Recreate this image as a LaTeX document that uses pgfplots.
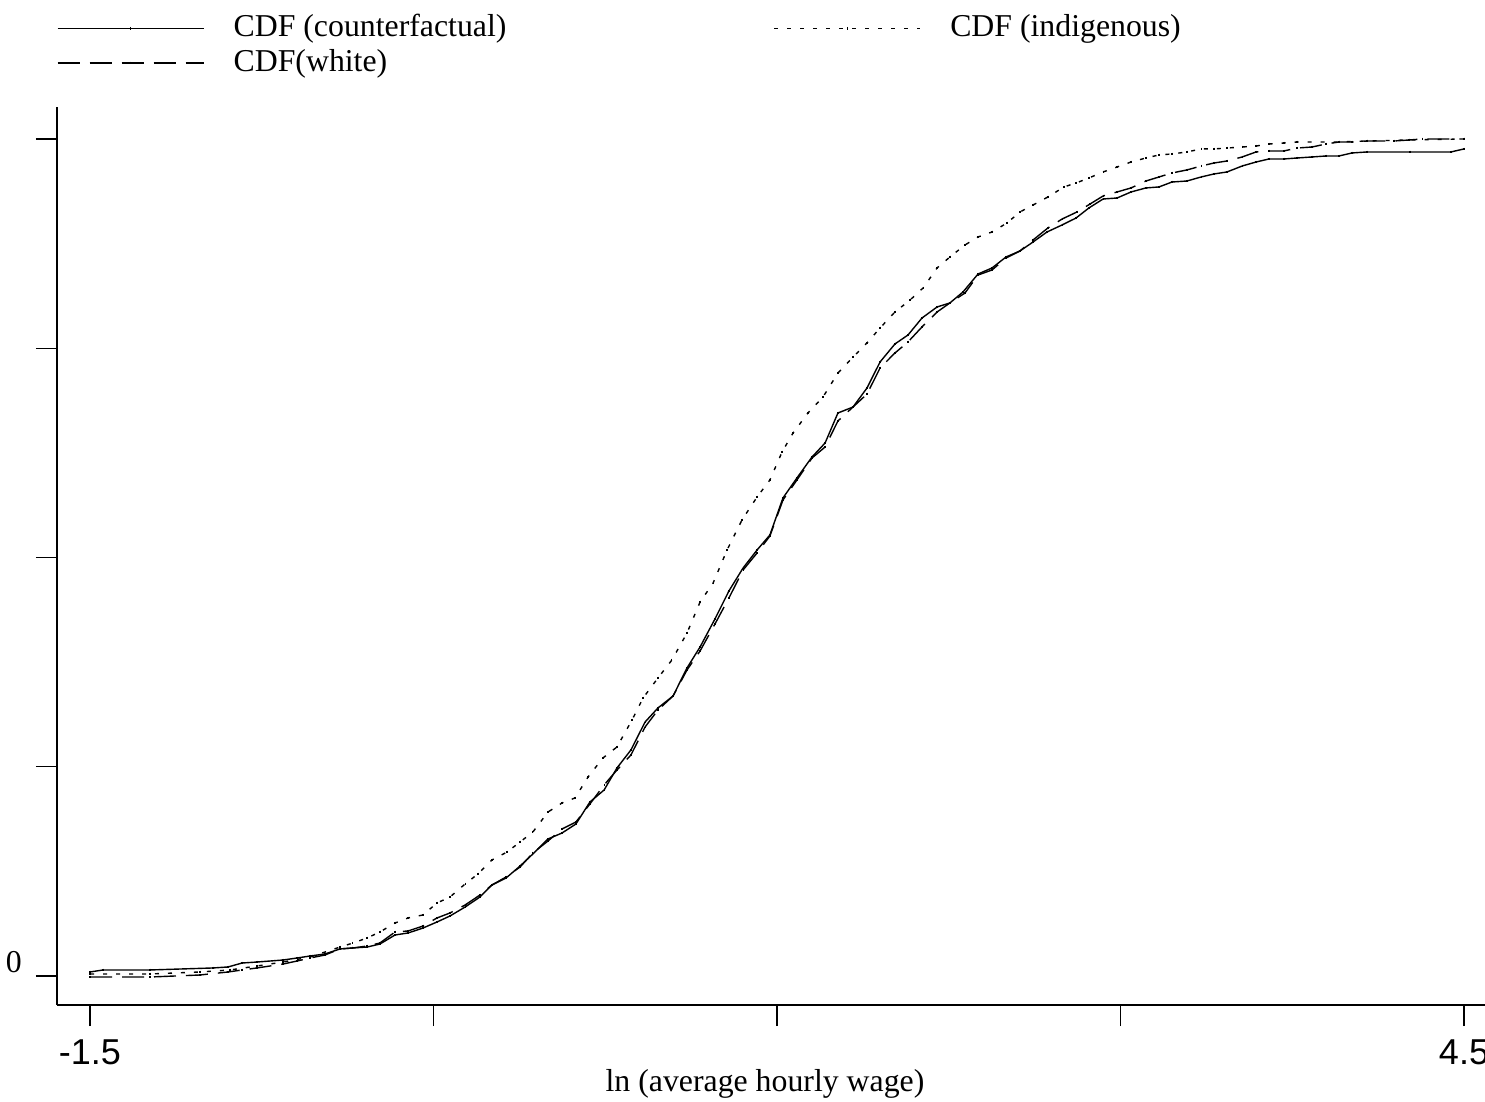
\documentclass[border=0pt]{standalone}
\usepackage{pgfplots}
\pgfplotsset{compat=1.18}
\usepackage{fontspec}
\setmainfont{Liberation Serif}
\newfontfamily\sansf{Liberation Sans}

\pgfplotstableread{
x y
-1.500 0.0048
-1.443 0.0072
-1.238 0.0072
-0.963 0.0096
-0.897 0.0108
-0.836 0.0155
-0.771 0.0167
-0.657 0.0191
-0.596 0.0215
-0.539 0.0239
-0.474 0.0263
-0.408 0.0323
-0.352 0.0335
-0.290 0.0346
-0.234 0.0382
-0.168 0.0490
-0.111 0.0514
-0.046 0.0573
0.015 0.0645
0.072 0.0717
0.138 0.0824
0.203 0.0944
0.255 0.1087
0.317 0.1171
0.378 0.1314
0.434 0.1458
0.500 0.1637
0.561 0.1708
0.622 0.1816
0.683 0.2079
0.745 0.2222
0.801 0.2485
0.862 0.2700
0.924 0.3035
0.980 0.3202
1.046 0.3345
1.107 0.3680
1.164 0.3931
1.229 0.4265
1.290 0.4600
1.352 0.4875
1.413 0.5090
1.469 0.5269
1.526 0.5711
1.587 0.5950
1.653 0.6201
1.710 0.6368
1.766 0.6726
1.832 0.6798
1.893 0.7025
1.950 0.7336
2.015 0.7551
2.072 0.7658
2.133 0.7861
2.199 0.7993
2.255 0.8041
2.312 0.8172
2.378 0.8387
2.439 0.8459
2.500 0.8590
2.561 0.8662
2.618 0.8769
2.679 0.8889
2.745 0.8973
2.806 0.9056
2.862 0.9176
2.924 0.9283
2.985 0.9295
3.046 0.9367
3.111 0.9415
3.168 0.9427
3.225 0.9486
3.290 0.9498
3.352 0.9546
3.408 0.9582
3.465 0.9606
3.531 0.9677
3.592 0.9725
3.648 0.9761
3.714 0.9761
3.771 0.9773
3.836 0.9785
3.897 0.9797
3.954 0.9797
4.011 0.9833
4.076 0.9845
4.264 0.9845
4.443 0.9845
4.500 0.9881
}\counterfactual

\pgfplotstableread{
x y
-1.500 0.0024
-1.238 0.0024
-1.020 0.0048
-0.889 0.0072
-0.771 0.0119
-0.657 0.0167
-0.539 0.0227
-0.408 0.0346
-0.352 0.0394
-0.290 0.0454
-0.234 0.0526
-0.168 0.0633
-0.111 0.0693
-0.046 0.0729
0.015 0.0872
0.072 0.0944
0.138 0.1099
0.194 0.1219
0.255 0.1386
0.321 0.1481
0.378 0.1601
0.434 0.1720
0.500 0.1959
0.561 0.2067
0.618 0.2127
0.675 0.2378
0.740 0.2605
0.801 0.2736
0.867 0.3059
0.915 0.3321
0.980 0.3560
1.041 0.3775
1.107 0.4098
1.164 0.4468
1.221 0.4695
1.282 0.5090
1.347 0.5448
1.413 0.5723
1.469 0.5926
1.522 0.6260
1.570 0.6487
1.635 0.6726
1.701 0.6918
1.766 0.7204
1.832 0.7395
1.893 0.7563
1.950 0.7742
2.015 0.7933
2.081 0.8076
2.138 0.8220
2.199 0.8459
2.255 0.8590
2.321 0.8734
2.378 0.8829
2.439 0.8889
2.504 0.8996
2.561 0.9128
2.618 0.9211
2.683 0.9307
2.753 0.9427
2.806 0.9474
2.862 0.9534
2.924 0.9606
2.985 0.9665
3.046 0.9725
3.111 0.9773
3.168 0.9809
3.225 0.9821
3.290 0.9845
3.352 0.9881
3.408 0.9881
3.465 0.9892
3.531 0.9904
3.592 0.9916
3.648 0.9940
3.714 0.9952
3.771 0.9964
3.954 0.9964
4.076 0.9976
4.260 0.9988
4.500 1.0000
}\indigenous

\pgfplotstableread{
x y
-1.500 -0.0012
-1.238 -0.0012
-1.020 0.0012
-0.897 0.0048
-0.836 0.0072
-0.771 0.0096
-0.657 0.0143
-0.596 0.0179
-0.539 0.0215
-0.474 0.0251
-0.408 0.0323
-0.352 0.0335
-0.290 0.0358
-0.234 0.0394
-0.168 0.0526
-0.111 0.0538
-0.046 0.0597
0.015 0.0693
0.072 0.0753
0.138 0.0848
0.203 0.0968
0.255 0.1087
0.317 0.1183
0.378 0.1302
0.434 0.1470
0.500 0.1613
0.561 0.1756
0.622 0.1840
0.683 0.2055
0.745 0.2282
0.801 0.2461
0.862 0.2640
0.924 0.2975
0.980 0.3178
1.046 0.3345
1.107 0.3656
1.164 0.3883
1.229 0.4205
1.290 0.4516
1.352 0.4851
1.413 0.5054
1.469 0.5257
1.526 0.5687
1.587 0.5926
1.653 0.6189
1.710 0.6320
1.766 0.6631
1.832 0.6798
1.893 0.6953
1.950 0.7264
2.015 0.7443
2.072 0.7575
2.133 0.7754
2.199 0.7933
2.255 0.8041
2.321 0.8160
2.378 0.8375
2.439 0.8435
2.500 0.8578
2.561 0.8662
2.618 0.8793
2.683 0.8937
2.745 0.9044
2.810 0.9128
2.867 0.9223
2.924 0.9319
2.985 0.9367
3.046 0.9415
3.111 0.9498
3.168 0.9546
3.225 0.9594
3.290 0.9630
3.352 0.9677
3.408 0.9713
3.465 0.9737
3.531 0.9785
3.592 0.9845
3.648 0.9857
3.714 0.9857
3.771 0.9892
3.836 0.9904
3.897 0.9940
3.954 0.9964
4.011 0.9964
4.076 0.9976
4.194 0.9976
4.260 0.9988
4.317 1.0000
4.500 1.0000
}\white

\begin{document}
\begin{tikzpicture}
\begin{axis}[
  scale only axis,
  width=357pt, height=224.5pt,
  xmin=-1.6441, xmax=4.5917,
  ymin=-0.03465, ymax=1.03823,
  axis x line=bottom, axis y line=left,
  axis line style={-, line width=0.4pt},
  tick align=outside,
  major tick length=5.25pt,
  tick style={black, line width=0.35pt},
  xtick={-1.5,0,1.5,3,4.5},
  xticklabels={-1.5,,,,4.5},
  ytick={0,0.25,0.5,0.75,1},
  yticklabels={0,,,,},
  xticklabel style={font=\sansf\fontsize{9pt}{10pt}\selectfont},
  yticklabel style={font=\fontsize{7.95pt}{9pt}\selectfont, anchor=base east, yshift=0.9pt},
  xlabel={ln (average hourly wage)},
  xlabel style={font=\fontsize{7.95pt}{9pt}\selectfont, at={(axis description cs:0.4958,0)}, anchor=base, yshift=-21.5pt},
  legend columns=2,
  legend cell align=left,
  legend style={draw=none, fill=none, inner sep=0pt, outer sep=0pt,
    font=\fontsize{7.95pt}{9pt}\selectfont,
    nodes={inner sep=0.8pt},
    at={(axis description cs:0,1)}, anchor=north west, yshift=24pt,
    /tikz/every odd column/.append style={column sep=6.5pt},
    /tikz/every even column/.append style={column sep=66pt}},
  legend image code/.code={\draw[#1,mark repeat=2,mark phase=2] plot coordinates {(0pt,0pt) (18.25pt,0pt) (36.5pt,0pt)};},
  every axis plot/.append style={line width=0.35pt, black, mark=|, mark size=0.35pt, mark options={solid, line width=0.3pt}},
]
\addplot[black, solid] table[x=x,y=y] {\counterfactual};
\addlegendentry{CDF (counterfactual)}
\addplot[black, dash pattern=on 1pt off 2.25pt] table[x=x,y=y] {\indigenous};
\addlegendentry{CDF (indigenous)}
\addplot[black, dash pattern=on 5.5pt off 2.5pt] table[x=x,y=y] {\white};
\addlegendentry{CDF(white)}
\end{axis}
\pgfresetboundingbox
\path[use as bounding box] ([xshift=-14.25pt,yshift=-24pt]current axis.south west) rectangle ([yshift=26.75pt]current axis.north east);
\end{tikzpicture}
\end{document}
